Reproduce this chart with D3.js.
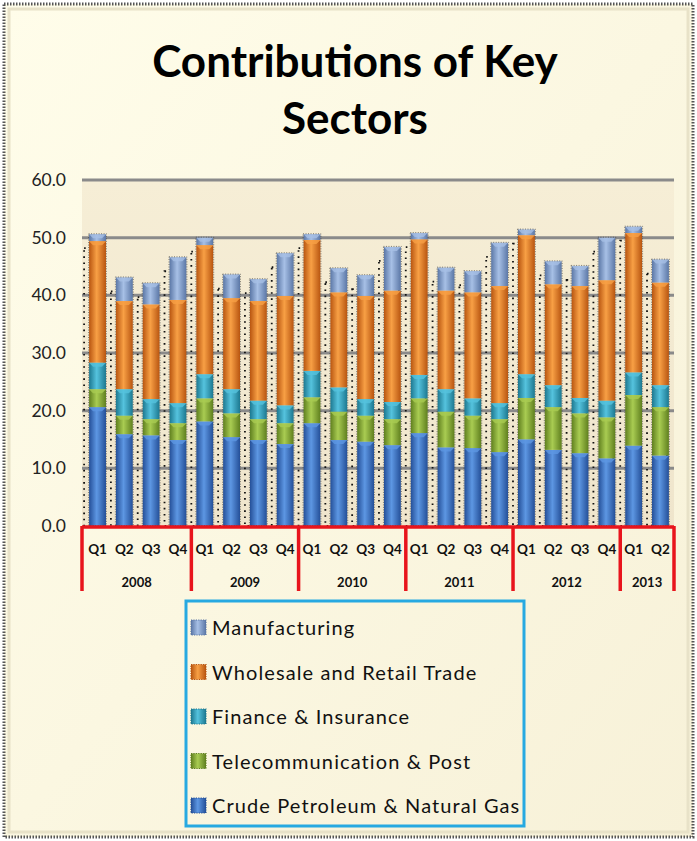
<!DOCTYPE html>
<html>
<head>
<meta charset="utf-8">
<script src="https://cdn.jsdelivr.net/npm/d3@7"></script>
<style>
  html, body { margin: 0; padding: 0; background: #fff; }
  svg { display: block; }
</style>
</head>
<body>
<svg width="697" height="841"></svg>
<script>
const width = 697;
const height = 841;

// quarters and years
const years = ["2008", "2009", "2010", "2011", "2012", "2013"];
const quarters = ["Q1", "Q2", "Q3", "Q4"];
const periods = [];
years.forEach(y => quarters.forEach(q => {
  if (!(y === "2013" && (q === "Q3" || q === "Q4"))) periods.push({ year: y, q: q, key: y + " " + q });
}));

const yTicks = [0, 10, 20, 30, 40, 50, 60];

// series values (bottom to top)
const crude = [20.6, 15.9, 15.7, 14.9, 18.1, 15.4, 14.9, 14.2, 17.8, 14.9, 14.6, 14.0, 16.1, 13.6, 13.5, 12.8, 15.0, 13.2, 12.6, 11.7, 13.9, 12.2];
const telecom = [3.1, 3.2, 2.8, 2.9, 4.0, 4.1, 3.6, 3.6, 4.5, 4.9, 4.5, 4.5, 6.0, 6.2, 5.6, 5.7, 7.2, 7.4, 6.9, 7.1, 8.8, 8.4];
const finance = [4.6, 4.6, 3.5, 3.5, 4.2, 4.2, 3.2, 3.1, 4.6, 4.2, 2.9, 3.0, 4.1, 3.9, 3.0, 2.8, 4.1, 3.8, 2.7, 2.9, 3.9, 3.8];
const wholesale = [21.1, 15.3, 16.4, 17.9, 22.4, 15.8, 17.3, 19.0, 22.7, 16.5, 17.9, 19.3, 23.5, 17.1, 18.4, 20.3, 24.1, 17.5, 19.4, 20.9, 24.2, 17.8];
const manufacturing = [1.2, 4.1, 3.7, 7.4, 1.3, 4.1, 3.8, 7.4, 1.0, 4.2, 3.6, 7.6, 1.1, 4.0, 3.7, 7.5, 1.0, 4.0, 3.5, 7.4, 1.1, 4.0];

const series = [
  { key: "crude", name: "Crude Petroleum & Natural Gas", values: crude, color: "#3a70c2", light: "#5d97e3", dark: "#244f98" },
  { key: "telecom", name: "Telecommunication & Post", values: telecom, color: "#87aa34", light: "#a9cc52", dark: "#5f7f1e" },
  { key: "finance", name: "Finance & Insurance", values: finance, color: "#2e9fbd", light: "#55c3de", dark: "#1c7890" },
  { key: "wholesale", name: "Wholesale and Retail Trade", values: wholesale, color: "#e5761c", light: "#f8a045", dark: "#b85510" },
  { key: "manufacturing", name: "Manufacturing", values: manufacturing, color: "#7f9dcc", light: "#a7c0e6", dark: "#5b77a6" }
];

const rows = periods.map((p, i) => {
  const r = { key: p.key };
  series.forEach(s => r[s.key] = s.values[i]);
  return r;
});
const stacked = d3.stack().keys(series.map(s => s.key))(rows);

const svg = d3.select("svg");
const defs = svg.append("defs");

// backgrounds
const bg = defs.append("linearGradient").attr("id", "bg")
    .attr("x1", 0).attr("y1", 0).attr("x2", 1).attr("y2", 1);
bg.append("stop").attr("offset", 0).attr("stop-color", "#fffdea");
bg.append("stop").attr("offset", 1).attr("stop-color", "#f7f1d8");

const plotBg = defs.append("linearGradient").attr("id", "plotbg")
    .attr("x1", 0).attr("y1", 0).attr("x2", 0).attr("y2", 1);
plotBg.append("stop").attr("offset", 0).attr("stop-color", "#f6eed6");
plotBg.append("stop").attr("offset", 1).attr("stop-color", "#efe5cc");

series.forEach(s => {
  const g = defs.append("linearGradient").attr("id", "g-" + s.key)
      .attr("x1", 0).attr("y1", 0).attr("x2", 1).attr("y2", 0);
  g.append("stop").attr("offset", 0).attr("stop-color", s.dark);
  g.append("stop").attr("offset", 0.45).attr("stop-color", s.light);
  g.append("stop").attr("offset", 1).attr("stop-color", s.dark);
});

svg.append("rect")
    .attr("x", 0).attr("y", 0).attr("width", width).attr("height", height)
    .attr("fill", "#fff");
svg.append("rect")
    .attr("x", 4).attr("y", 4).attr("width", width - 8).attr("height", height - 8)
    .attr("fill", "url(#bg)")
    .attr("stroke", "#555")
    .attr("stroke-width", 3)
    .attr("stroke-dasharray", "1.5,1.5");
svg.append("rect")
    .attr("x", 9).attr("y", 9).attr("width", width - 18).attr("height", height - 18)
    .attr("fill", "none")
    .attr("stroke", "#e8e2c8")
    .attr("stroke-width", 3);

// title
svg.append("g")
    .attr("font-family", "Lato, 'Open Sans', sans-serif")
    .attr("font-weight", "bold")
    .attr("font-size", 44)
    .attr("text-anchor", "middle")
    .attr("fill", "#000")
  .selectAll("text")
  .data(["Contributions of Key", "Sectors"])
  .join("text")
    .attr("x", 355)
    .attr("y", (d, i) => 77 + i * 57)
    .text(d => d);

// scales
const plotL = 82, plotR = 674, plotT = 180, plotB = 526;
const x = d3.scaleBand()
    .domain(periods.map(p => p.key))
    .range([plotL + 2, plotR])
    .paddingInner(0.37)
    .paddingOuter(0.19);
const y = d3.scaleLinear().domain([0, 60]).range([plotB, plotT]);

svg.append("rect")
    .attr("x", plotL).attr("y", plotT)
    .attr("width", plotR - plotL).attr("height", plotB - plotT)
    .attr("fill", "url(#plotbg)");

// gridlines
svg.append("g")
    .attr("stroke", "#8a8a8a")
    .attr("stroke-width", 3)
  .selectAll("line")
  .data(yTicks.filter(t => t > 0))
  .join("line")
    .attr("x1", plotL).attr("x2", plotR)
    .attr("y1", d => y(d)).attr("y2", d => y(d));

// y axis labels
const yAxis = d3.axisLeft(y).tickValues(yTicks).tickFormat(d3.format(".1f")).tickSize(0).tickPadding(16);
svg.append("g")
    .attr("transform", `translate(${plotL},0)`)
    .call(yAxis)
    .call(g => g.select(".domain").remove())
    .call(g => g.selectAll("text")
        .attr("font-family", "Lato, 'Open Sans', sans-serif")
        .attr("font-size", 17.5)
        .attr("fill", "#222"));

// dotted shadow columns
svg.append("g")
    .attr("fill", "none")
    .attr("stroke", "#111")
    .attr("stroke-width", 1.8)
    .attr("stroke-dasharray", "1.6,4.5")
  .selectAll("rect")
  .data(rows.map((r, i) => ({ key: r.key, top: stacked[stacked.length - 1][i][1] })))
  .join("rect")
    .attr("x", d => x(d.key) - 5)
    .attr("y", d => y(d.top) + 14)
    .attr("width", x.bandwidth() + 3)
    .attr("height", d => plotB - y(d.top) - 14);

// bars
svg.append("g")
  .selectAll("g")
  .data(stacked)
  .join("g")
    .attr("fill", (d, i) => `url(#g-${series[i].key})`)
  .selectAll("rect")
  .data(d => d)
  .join("rect")
    .attr("x", d => x(d.data.key))
    .attr("y", d => y(d[1]))
    .attr("width", x.bandwidth())
    .attr("height", d => y(d[0]) - y(d[1]));

// little bevel caps on each segment
svg.append("g")
  .selectAll("g")
  .data(stacked)
  .join("g")
    .attr("fill", (d, i) => series[i].light)
    .attr("opacity", 0.8)
  .selectAll("path")
  .data(d => d)
  .join("path")
    .attr("d", d => {
      const x0 = x(d.data.key), w = x.bandwidth(), yt = y(d[1]);
      return `M${x0},${yt}L${x0 + w},${yt}L${x0 + w - 4},${yt + 4}L${x0 + 4},${yt + 4}Z`;
    });

// bar outline fuzz
svg.append("g")
    .attr("fill", "none")
    .attr("stroke", "#333")
    .attr("stroke-width", 1)
    .attr("stroke-dasharray", "1,1.5")
    .attr("opacity", 0.6)
  .selectAll("rect")
  .data(rows.map((r, i) => ({ key: r.key, top: stacked[stacked.length - 1][i][1] })))
  .join("rect")
    .attr("x", d => x(d.key) - 0.5)
    .attr("y", d => y(d.top) - 0.5)
    .attr("width", x.bandwidth() + 1)
    .attr("height", d => plotB - y(d.top));

// red category axis
const step = x.step();
const yearBounds = years.map(yr => {
  const ps = periods.filter(p => p.year === yr);
  return {
    year: yr,
    x0: x(ps[0].key) - step * x.paddingInner() / 2,
    x1: x(ps[ps.length - 1].key) + x.bandwidth() + step * x.paddingInner() / 2
  };
});
yearBounds[0].x0 = plotL;
yearBounds[yearBounds.length - 1].x1 = plotR;

const axisG = svg.append("g").attr("stroke", "#e8141c").attr("stroke-width", 3.5);
axisG.append("line")
    .attr("x1", plotL).attr("x2", plotR)
    .attr("y1", plotB + 1).attr("y2", plotB + 1);
axisG.selectAll("line.sep")
  .data([yearBounds[0].x0].concat(yearBounds.map(b => b.x1)))
  .join("line")
    .attr("class", "sep")
    .attr("x1", d => d).attr("x2", d => d)
    .attr("y1", plotB).attr("y2", 591);

svg.append("g")
    .attr("font-family", "Lato, 'Open Sans', sans-serif")
    .attr("font-weight", "bold")
    .attr("font-size", 13.5)
    .attr("text-anchor", "middle")
    .attr("fill", "#111")
  .selectAll("text")
  .data(periods)
  .join("text")
    .attr("x", d => x(d.key) + x.bandwidth() / 2)
    .attr("y", 554)
    .text(d => d.q);

svg.append("g")
    .attr("font-family", "Lato, 'Open Sans', sans-serif")
    .attr("font-weight", "bold")
    .attr("font-size", 13)
    .attr("text-anchor", "middle")
    .attr("fill", "#111")
  .selectAll("text")
  .data(yearBounds)
  .join("text")
    .attr("x", d => (d.x0 + d.x1) / 2)
    .attr("y", 587)
    .text(d => d.year);

// legend
const legend = svg.append("g");
legend.append("rect")
    .attr("x", 186).attr("y", 601)
    .attr("width", 338).attr("height", 225)
    .attr("fill", "none")
    .attr("stroke", "#27a9e1")
    .attr("stroke-width", 3);

const legendItems = series.slice().reverse();
const li = legend.selectAll("g.item")
  .data(legendItems)
  .join("g")
    .attr("class", "item")
    .attr("transform", (d, i) => `translate(191,${628 + i * 44.5})`);
li.append("rect")
    .attr("x", 0).attr("y", -8)
    .attr("width", 15).attr("height", 15)
    .attr("fill", d => `url(#g-${d.key})`)
    .attr("stroke", d => d.dark)
    .attr("stroke-width", 1.2)
    .attr("stroke-dasharray", "1.2,1.2");
li.append("text")
    .attr("x", 21).attr("y", 0)
    .attr("dy", "0.36em")
    .attr("font-family", "Lato, 'Open Sans', sans-serif")
    .attr("font-size", 20)
    .attr("letter-spacing", 1.1)
    .attr("fill", "#111")
    .text(d => d.name);
</script>
</body>
</html>
